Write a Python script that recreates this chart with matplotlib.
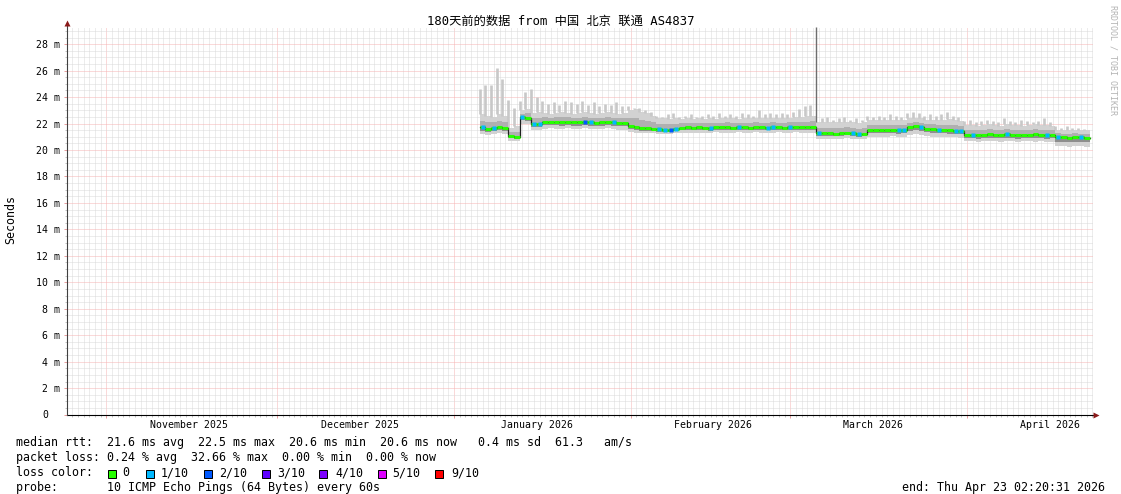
import datetime as dt
import numpy as np
import matplotlib
matplotlib.use('Agg')
import matplotlib.pyplot as plt
import matplotlib.dates as mdates
from matplotlib.ticker import MultipleLocator, FuncFormatter, NullFormatter
from matplotlib.transforms import blended_transform_factory
from matplotlib.patches import Rectangle

W, H = 1121, 494
MONO = 'DejaVu Sans Mono'
plt.rcParams['font.family'] = MONO

# graph window: 180 days ending at probe time
end_time = dt.datetime(2026, 4, 23, 2, 20, 31)
start_time = end_time - dt.timedelta(days=180)

# one sample per day, first day starts 2026-01-05 12:00
first_day = dt.datetime(2026, 1, 5, 12, 0)

# median rtt (ms)
median_ms = [
    21.75, 21.6, 21.7, 21.75, 21.7, 21.05, 21.0, 22.5, 22.45, 22.0,
    21.95, 22.15, 22.1, 22.12, 22.1, 22.15, 22.1, 22.1, 22.12, 22.1,
    22.08, 22.1, 22.12, 22.1, 22.08, 22.05, 21.85, 21.75, 21.7, 21.65,
    21.6, 21.6, 21.55, 21.55, 21.6, 21.7, 21.72, 21.7, 21.75, 21.7,
    21.65, 21.75, 21.72, 21.75, 21.7, 21.72, 21.75, 21.7, 21.72, 21.75,
    21.7, 21.72, 21.75, 21.7, 21.72, 21.75, 21.72, 21.75, 21.72, 21.3,
    21.25, 21.25, 21.22, 21.25, 21.3, 21.28, 21.2, 21.22, 21.5, 21.5,
    21.52, 21.5, 21.5, 21.48, 21.5, 21.75, 21.78, 21.75, 21.6, 21.58,
    21.5, 21.52, 21.5, 21.45, 21.45, 21.15, 21.15, 21.12, 21.15, 21.18,
    21.15, 21.15, 21.18, 21.15, 21.12, 21.15, 21.15, 21.18, 21.15, 21.12,
    21.15, 20.95, 20.95, 20.92, 20.95, 20.95, 20.9,
]
# smoke envelope: lowest / highest ping (ms)
smoke_lo = [
    21.2, 21.15, 21.2, 21.25, 21.2, 20.7, 20.7, 22.0, 21.95, 21.5,
    21.5, 21.6, 21.65, 21.6, 21.6, 21.65, 21.6, 21.6, 21.65, 21.6,
    21.6, 21.6, 21.65, 21.6, 21.55, 21.55, 21.35, 21.3, 21.25, 21.25,
    21.25, 21.2, 21.2, 21.2, 21.25, 21.3, 21.3, 21.3, 21.3, 21.3,
    21.3, 21.35, 21.3, 21.3, 21.3, 21.35, 21.3, 21.3, 21.35, 21.3,
    21.3, 21.3, 21.35, 21.3, 21.3, 21.35, 21.3, 21.3, 21.3, 20.85,
    20.85, 20.8, 20.85, 20.85, 20.9, 20.85, 20.8, 20.85, 21.0, 21.0,
    21.0, 21.0, 21.05, 21.0, 21.0, 21.15, 21.2, 21.15, 21.05, 21.0,
    21.0, 21.0, 20.95, 20.95, 20.9, 20.65, 20.65, 20.6, 20.65, 20.65,
    20.65, 20.6, 20.65, 20.65, 20.6, 20.65, 20.65, 20.6, 20.65, 20.6,
    20.6, 20.3, 20.3, 20.25, 20.3, 20.3, 20.25,
]
smoke_hi = [
    22.7, 22.6, 22.5, 22.7, 22.6, 21.7, 21.8, 23.0, 23.1, 22.8,
    22.9, 22.8, 22.75, 22.8, 22.85, 22.8, 22.75, 22.8, 22.85, 22.8,
    22.75, 22.8, 22.85, 22.8, 22.75, 22.8, 23.0, 23.1, 22.9, 22.8,
    22.6, 22.4, 22.4, 22.35, 22.4, 22.35, 22.4, 22.35, 22.4, 22.35,
    22.4, 22.35, 22.4, 22.45, 22.4, 22.35, 22.4, 22.4, 22.45, 22.4,
    22.4, 22.45, 22.4, 22.4, 22.45, 22.5, 22.5, 22.55, 22.6, 22.1,
    22.1, 22.15, 22.1, 22.1, 22.15, 22.1, 22.05, 22.1, 22.3, 22.3,
    22.3, 22.25, 22.3, 22.3, 22.3, 22.4, 22.45, 22.4, 22.3, 22.3,
    22.3, 22.25, 22.35, 22.3, 22.2, 21.9, 21.9, 21.85, 21.9, 21.95,
    21.9, 21.85, 21.95, 21.9, 21.9, 21.85, 21.9, 21.95, 21.9, 21.9,
    21.85, 21.55, 21.5, 21.55, 21.55, 21.5, 21.5,
]
# short spikes of the slowest ping each day (ms)
smoke_peak = [
    24.6, 24.9, 24.9, 26.2, 25.4, 23.8, 23.2, 23.7, 24.4, 24.6,
    24.0, 23.7, 23.5, 23.6, 23.4, 23.7, 23.6, 23.5, 23.7, 23.4,
    23.6, 23.3, 23.5, 23.4, 23.6, 23.3, 23.3, 23.2, 23.2, 23.0,
    22.9, 22.6, 22.5, 22.7, 22.8, 22.5, 22.6, 22.7, 22.5, 22.6,
    22.7, 22.6, 22.8, 22.6, 22.7, 22.6, 22.8, 22.7, 22.6, 23.0,
    22.7, 22.8, 22.7, 22.8, 22.7, 22.9, 23.1, 23.3, 23.4, 29.3,
    22.4, 22.5, 22.3, 22.4, 22.5, 22.3, 22.4, 22.3, 22.6, 22.5,
    22.6, 22.5, 22.7, 22.6, 22.5, 22.8, 22.9, 22.8, 22.6, 22.7,
    22.6, 22.7, 22.9, 22.6, 22.5, 22.2, 22.3, 22.1, 22.2, 22.3,
    22.2, 22.1, 22.4, 22.2, 22.1, 22.3, 22.2, 22.1, 22.2, 22.4,
    22.1, 21.8, 21.7, 21.8, 21.7, 21.7, 21.6,
]
# days (index) with packet loss 1/10 and 2/10
loss_1_days = [0, 2, 7, 9, 10, 19, 23, 31, 32, 34, 40, 45, 50, 51, 54, 59,
               65, 66, 73, 74, 77, 80, 83, 84, 86, 92, 99, 101, 105]
loss_2_days = [18, 33]

loss_names = ['0', '1/10', '2/10', '3/10', '4/10', '5/10', '9/10']
loss_colors = ['#26ff00', '#00b8ff', '#0059ff', '#5e00ff', '#7e00ff', '#dd00ff', '#ff0000']

label_months = [(2025, 11), (2025, 12), (2026, 1), (2026, 2), (2026, 3), (2026, 4)]

title = '180天前的数据 from 中国 北京 联通 AS4837'
stat_rows = [
    'median rtt:  21.6 ms avg  22.5 ms max  20.6 ms min  20.6 ms now   0.4 ms sd  61.3   am/s',
    'packet loss: 0.24 % avg  32.66 % max  0.00 % min  0.00 % now',
    'loss color:',
    'probe:       10 ICMP Echo Pings (64 Bytes) every 60s',
]
end_text = 'end: Thu Apr 23 02:20:31 2026'

# ---- figure / axes in pixel layout ----
fig = plt.figure(figsize=(W / 100, H / 100), dpi=100)
fig.patch.set_facecolor('white')
ax_l, ax_r, ax_b, ax_t = 67, 1093, 414.6, 27
ax = fig.add_axes([ax_l / W, (H - ax_b) / H, (ax_r - ax_l) / W, (ax_b - ax_t) / H])
ax_h = ax_b - ax_t
ax_w = ax_r - ax_l

for s in ax.spines.values():
    s.set_visible(False)

# ---- smoke ----
med = np.array(median_ms)
lo = np.array(smoke_lo)
hi = np.array(smoke_hi)
peak = np.array(smoke_peak)
n = len(med)
t0 = mdates.date2num(first_day)
edges = t0 + np.arange(n + 1)
starts = edges[:-1]


def ext(a):
    return np.append(a, a[-1])


ax.fill_between(edges, ext(lo), ext(hi), step='post', color='#d2d2d2', lw=0, zorder=2)
spike_cols = ['#6e6e6e' if p > 28 else '#c8c8c8' for p in peak]
spike_w = [1.0 if p > 28 else 1.9 for p in peak]
ax.vlines(starts, hi, peak, colors=spike_cols, lw=spike_w, zorder=2)
mid_lo = (lo + med) / 2
mid_hi = (med + hi) / 2
ax.fill_between(edges, ext(mid_lo), ext(mid_hi), step='post', color='#b0b0b0', lw=0, zorder=3)
ax.fill_between(edges, ext(mid_lo), ext(med), step='post', color='#8e8e8e', lw=0, zorder=3)

# median line: thin black under thick loss-coloured line
ax.step(edges, ext(med), where='post', color='#202020', lw=0.9, zorder=4)
ax.hlines(med, starts, edges[1:], colors=loss_colors[0], lw=2.2, zorder=5)
for days, col in ((loss_1_days, loss_colors[1]), (loss_2_days, loss_colors[2])):
    ax.plot(starts[days] + 0.5, med[days], 's', ms=2.3, color=col, mec='none', zorder=6)

# ---- scales / grid ----
ax.set_xlim(mdates.date2num(start_time), mdates.date2num(end_time))
ax.set_ylim(0, 29.3)
ax.xaxis.set_major_locator(mdates.MonthLocator())
ax.xaxis.set_minor_locator(mdates.DayLocator())
ax.xaxis.set_major_formatter(NullFormatter())
ax.yaxis.set_major_locator(MultipleLocator(2))
ax.yaxis.set_minor_locator(MultipleLocator(0.5))
ax.yaxis.set_major_formatter(FuncFormatter(lambda v, p: '' if v == 0 else '%d m' % v))
ax.set_axisbelow(True)
ax.grid(which='minor', color='#dadada', linestyle=(0, (1, 1)), linewidth=0.72)
ax.grid(which='major', color='#f6b4b4', linestyle=(0, (1, 1)), linewidth=0.72)
ax.tick_params(which='major', length=2.2, width=0.72, color='#e8a0a0', labelsize=7.1, pad=2.9)
ax.tick_params(which='minor', length=1.5, width=0.72, color='#c4c4c4')
ax.annotate('0', xy=(0, 0), xycoords='axes fraction', xytext=(-19, 0),
            textcoords='offset pixels', ha='right', va='center', fontsize=7.1)

trans = blended_transform_factory(ax.transData, ax.transAxes)
for y, m in label_months:
    d = dt.datetime(y, m, 15, 12)
    ax.text(mdates.date2num(d), -10 / ax_h, d.strftime('%B %Y'), transform=trans,
            ha='center', va='center', fontsize=7.1)

# axis lines with arrow heads
ax.plot([0, 1 + 3 / ax_w], [0, 0], color='black', lw=0.8, transform=ax.transAxes,
        clip_on=False, zorder=7)
ax.plot([0, 0], [0, 1 + 4 / ax_h], color='#404040', lw=0.8, transform=ax.transAxes,
        clip_on=False, zorder=7)
ax.plot([1 + 3 / ax_w], [0], marker='>', ms=4, color='#8b1a1a', mec='none',
        transform=ax.transAxes, clip_on=False, zorder=8)
ax.plot([0], [1 + 3.5 / ax_h], marker='^', ms=4, color='#8b1a1a', mec='none',
        transform=ax.transAxes, clip_on=False, zorder=8)

# ---- texts ----
def fx(px):
    return px / W


def fy(py):
    return 1 - py / H


fig.text(fx(560.5), fy(21.5), title, ha='center', va='center', fontsize=8.8,
         family=[MONO, 'Noto Sans CJK SC'])
fig.text(fx(11), fy(220), 'Seconds', rotation=90, ha='center', va='center', fontsize=8.4)
fig.text(fx(1112.5), fy(60), 'RRDTOOL / TOBI OETIKER', rotation=270, ha='center',
         va='center', fontsize=6, color='#b4b4b4')

row_y = [442.7, 457.5, 472.5, 487.2]
for txt, y in zip(stat_rows, row_y):
    fig.text(fx(16), fy(y), txt, ha='left', va='center', fontsize=8.42)
fig.text(fx(1105), fy(row_y[3]), end_text, ha='right', va='center', fontsize=8.42)

box_x = [108, 146, 204, 262, 319, 378, 435]
name_x = [122, 161, 219, 277, 335, 392, 451]
for bx, nx, name, col in zip(box_x, name_x, loss_names, loss_colors):
    fig.patches.append(Rectangle((fx(bx), fy(477.5)), 8 / W, 8 / H, transform=fig.transFigure,
                                 facecolor=col, edgecolor='black', lw=0.72))
    fig.text(fx(nx), fy(row_y[2]), name, ha='left', va='center', fontsize=8.42)

fig.savefig('out.png', dpi=100, facecolor='white')
